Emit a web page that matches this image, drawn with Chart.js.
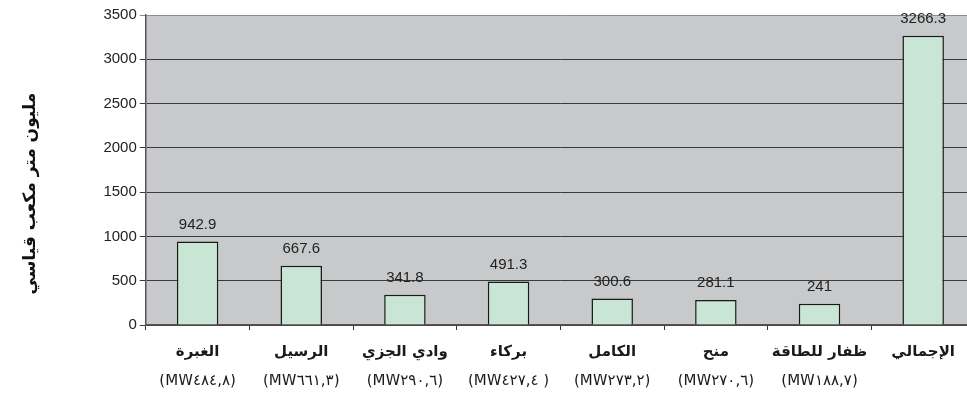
<!DOCTYPE html>
<html lang="ar">
<head>
<meta charset="utf-8">
<script src="https://cdn.jsdelivr.net/npm/chart.js@4.4.1/dist/chart.umd.min.js"></script>
<style>
  html, body { margin: 0; padding: 0; background: #ffffff; overflow: hidden; }
  #wrap { position: relative; width: 975px; height: 396px; }
</style>
</head>
<body>
<div id="wrap"><canvas id="chart"></canvas></div>
<script>
// Plant names and their installed capacity (MW); LRM keeps the brackets in left-to-right order
const plants = ['الغبرة', 'الرسيل', 'وادي الجزي', 'بركاء', 'الكامل', 'منح', 'ظفار للطاقة', 'الإجمالي'];
const capacities = ['(MW٤٨٤,٨\u200E)', '(MW٦٦١,٣\u200E)', '(MW٢٩٠,٦\u200E)', '(MW٤٢٧,٤\u200E )', '(MW٢٧٣,٢\u200E)', '(MW٢٧٠,٦\u200E)', '(MW١٨٨,٧\u200E)', ''];
// Gas consumption, million standard cubic metres
const consumption = [942.9, 667.6, 341.8, 491.3, 300.6, 281.1, 241, 3266.3];
const yTicks = [0, 500, 1000, 1500, 2000, 2500, 3000, 3500];
const yTitle = 'مليون متر مكعب قياسي';

// Grey plot background
const plotBackground = {
  id: 'plotBackground',
  beforeDraw(chart) {
    const { ctx, chartArea: a } = chart;
    ctx.save();
    ctx.fillStyle = '#c8c9cb';
    ctx.fillRect(a.left, a.top, a.right - a.left, a.bottom - a.top);
    ctx.restore();
  }
};

// Value labels above each bar
const valueLabels = {
  id: 'valueLabels',
  afterDatasetsDraw(chart) {
    const { ctx } = chart;
    const meta = chart.getDatasetMeta(0);
    const data = chart.data.datasets[0].data;
    ctx.save();
    ctx.font = '15px "Liberation Sans", Arial, sans-serif';
    ctx.fillStyle = '#222222';
    ctx.textAlign = 'center';
    ctx.textBaseline = 'middle';
    meta.data.forEach((bar, i) => {
      ctx.fillText(String(data[i]), bar.x, bar.y - 17);
    });
    ctx.restore();
  }
};

new Chart(document.getElementById('chart'), {
  type: 'bar',
  data: {
    labels: plants,
    datasets: [{
      data: consumption,
      backgroundColor: '#c9e6d4',
      borderColor: '#1a1a1a',
      borderWidth: 1.5,
      barPercentage: 0.4,
      categoryPercentage: 1.0,
      xAxisID: 'x',
      yAxisID: 'y'
    }]
  },
  options: {
    responsive: true,
    maintainAspectRatio: false,
    animation: false,
    layout: { padding: { left: 0, right: 0, top: 15, bottom: 8 } },
    plugins: {
      legend: { display: false },
      tooltip: { enabled: false }
    },
    scales: {
      x: {
        type: 'category',
        position: 'bottom',
        weight: 0,
        offset: true,
        grid: {
          display: true,
          offset: true,
          drawOnChartArea: false,
          drawTicks: true,
          tickLength: 5,
          color: '#333333',
          lineWidth: 1
        },
        border: { display: true, color: '#555555', width: 1.5 },
        ticks: {
          padding: 13,
          maxRotation: 0,
          autoSkip: false,
          color: '#1a1a1a',
          font: { family: '"DejaVu Sans", sans-serif', size: 15, weight: 'bold' }
        }
      },
      x2: {
        type: 'category',
        position: 'bottom',
        weight: 1,
        labels: capacities,
        offset: true,
        grid: { display: false, drawTicks: false },
        border: { display: false },
        ticks: {
          padding: -2,
          maxRotation: 0,
          autoSkip: false,
          color: '#1a1a1a',
          font: { family: '"DejaVu Sans", sans-serif', size: 15 }
        }
      },
      y: {
        min: 0,
        max: 3500,
        afterBuildTicks(scale) {
          scale.ticks = yTicks.map(v => ({ value: v }));
        },
        grid: {
          color: ctx => (ctx.tick && ctx.tick.value === 3500 ? '#8c8c8c' : '#3a3a3a'),
          lineWidth: 1,
          drawTicks: true,
          tickLength: 6
        },
        border: { display: true, color: '#555555', width: 1.5 },
        ticks: {
          padding: 3,
          color: '#222222',
          font: { family: '"Liberation Sans", Arial, sans-serif', size: 15 },
          callback: v => String(v)
        },
        title: {
          display: true,
          text: yTitle + '\u00A0'.repeat(8),
          color: '#111111',
          font: { family: '"DejaVu Sans", sans-serif', size: 17, weight: 'bold' },
          padding: { top: 20, bottom: 60 }
        }
      }
    }
  },
  plugins: [plotBackground, valueLabels]
});
</script>
</body>
</html>
